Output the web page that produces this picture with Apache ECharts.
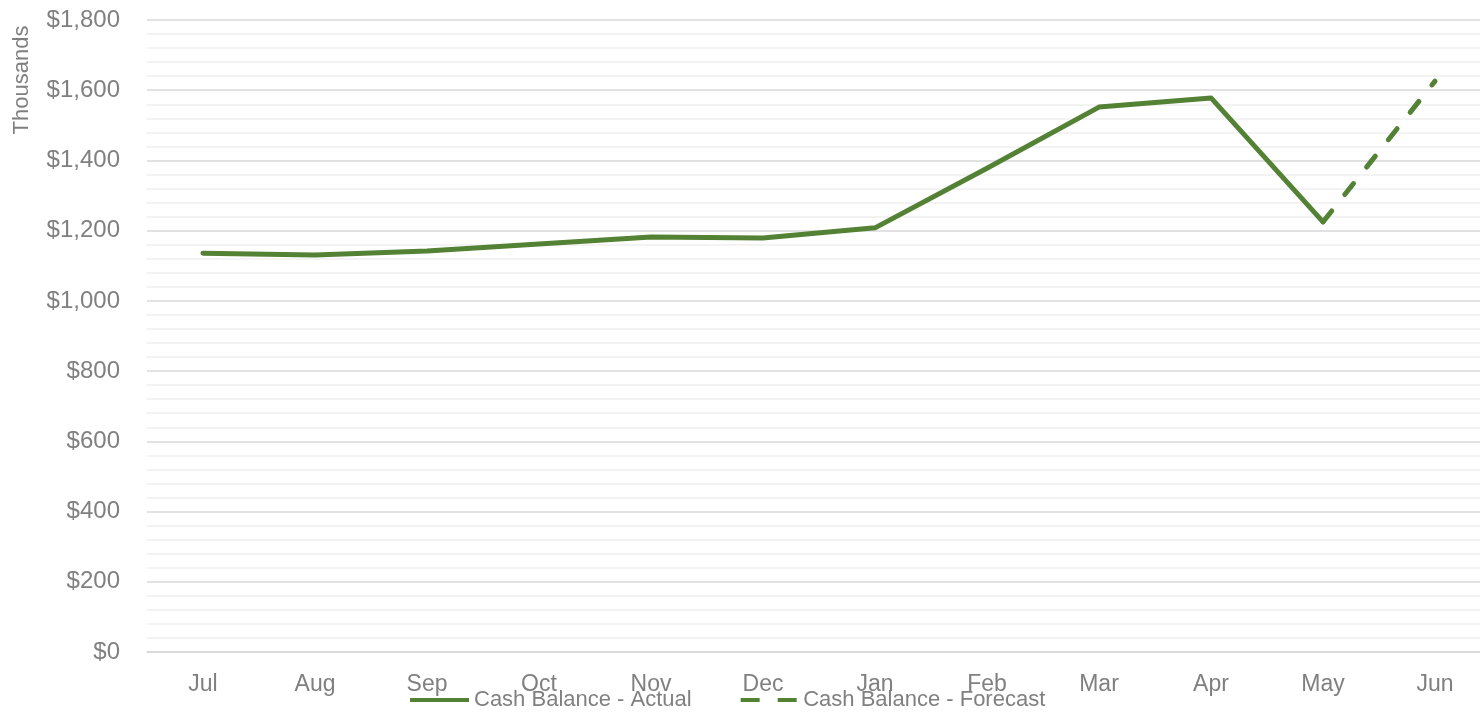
<!DOCTYPE html>
<html>
<head>
<meta charset="utf-8">
<script src="https://cdn.jsdelivr.net/npm/echarts@6/dist/echarts.min.js"></script>
<style>
  html, body { margin: 0; padding: 0; background: #fff; overflow: hidden; }
  #chart { width: 1491px; height: 713px; }
</style>
</head>
<body>
<div id="chart"></div>
<script>
const months = ['Jul', 'Aug', 'Sep', 'Oct', 'Nov', 'Dec', 'Jan', 'Feb', 'Mar', 'Apr', 'May', 'Jun']
// thousands of dollars
const actual = [1136, 1131, 1142, 1162, 1182, 1179, 1208, 1378, 1552, 1578, 1225, null]
const forecast = [null, null, null, null, null, null, null, null, null, null, 1225, 1626]

const green = '#548235'
const grey = '#808080'
const font = "'Liberation Sans', Arial, sans-serif"

// the plot runs a little past the right edge of the window, as in the original
const chart = echarts.init(document.getElementById('chart'))
chart.setOption({
  animation: false,
  textStyle: { fontFamily: font },
  grid: { left: 147, right: 0, top: 20, bottom: 61 },
  legend: {
    top: 689,
    left: 410,
    padding: 0,
    itemWidth: 59,
    itemHeight: 4,
    itemGap: 49,
    textStyle: { color: grey, fontSize: 22, fontFamily: font },
    data: [
      { name: 'Cash Balance - Actual', icon: 'path://M0,0h59v4h-59z' },
      { name: 'Cash Balance - Forecast', icon: 'path://M0,0h19v4h-19z M37,0h19v4h-19z' }
    ]
  },
  graphic: [{
    type: 'text',
    x: 22,
    y: 80,
    rotation: Math.PI / 2,
    style: {
      text: 'Thousands',
      fill: grey,
      font: "22px 'Liberation Sans', Arial, sans-serif",
      align: 'center',
      verticalAlign: 'middle'
    }
  }],
  xAxis: {
    type: 'category',
    data: months,
    boundaryGap: true,
    axisLine: { lineStyle: { color: '#d9d9d9', width: 1.5 } },
    axisTick: { show: false },
    axisLabel: { color: grey, fontSize: 23, margin: 21 }
  },
  yAxis: {
    type: 'value',
    min: 0,
    max: 1800,
    interval: 200,
    axisLine: { show: false },
    axisTick: { show: false },
    axisLabel: {
      color: grey,
      fontSize: 24,
      margin: 27,
      formatter: v => '$' + v.toLocaleString('en-US')
    },
    splitLine: { lineStyle: { color: '#d9d9d9', width: 1.5 } },
    minorTick: { show: false, splitNumber: 5 },
    minorSplitLine: { show: true, lineStyle: { color: '#efefef', width: 1.5 } }
  },
  series: [
    {
      name: 'Cash Balance - Actual',
      type: 'line',
      data: actual,
      symbol: 'none',
      lineStyle: { color: green, width: 5, cap: 'round', join: 'round' },
      itemStyle: { color: green }
    },
    {
      name: 'Cash Balance - Forecast',
      type: 'line',
      data: forecast,
      symbol: 'none',
      lineStyle: { color: green, width: 5, type: [14, 21], cap: 'round' },
      itemStyle: { color: green }
    }
  ]
})
</script>
</body>
</html>
